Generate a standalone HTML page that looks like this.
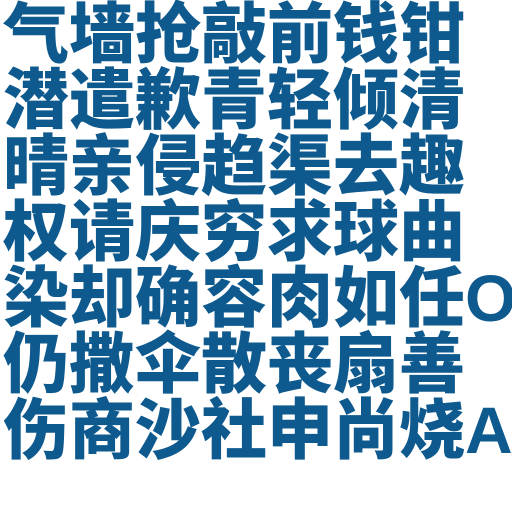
<!DOCTYPE html>
<html><head><meta charset="utf-8"><style>
html,body{margin:0;padding:0;background:#fff;width:512px;height:512px;overflow:hidden}
#t{position:absolute;left:3px;top:1px;font-family:"Liberation Sans","Noto Sans CJK SC",sans-serif;font-weight:900;font-size:66px;line-height:66px;color:#0e5a8e;white-space:nowrap}
#t div{height:66px}
</style></head><body>
<div id="t">
<div>气墙抢敲前钱钳</div>
<div>潜遣歉青轻倾清</div>
<div>晴亲侵趋渠去趣</div>
<div>权请庆穷求球曲</div>
<div>染却确容肉如任O</div>
<div>仍撒伞散丧扇善</div>
<div>伤商沙社申尚烧A</div>
</div>
</body></html>
